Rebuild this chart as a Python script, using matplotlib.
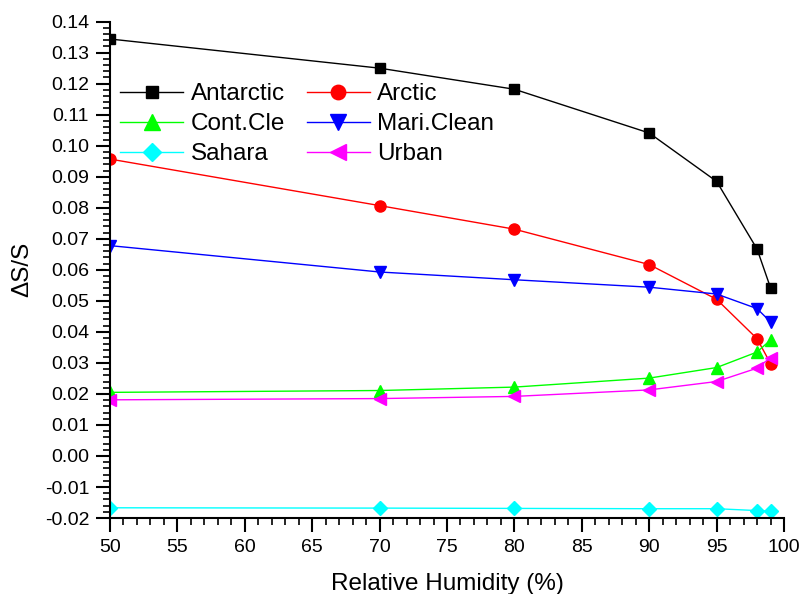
import matplotlib
matplotlib.use("Agg")
import matplotlib.pyplot as plt
from matplotlib.ticker import MultipleLocator, FormatStrFormatter

plt.rcParams['font.family'] = ['Liberation Sans', 'DejaVu Sans']

# relative humidity (%)
rh = [50, 70, 80, 90, 95, 98, 99]

antarctic = [0.1344, 0.1250, 0.1182, 0.1041, 0.0885, 0.0667, 0.0542]
arctic = [0.0957, 0.0807, 0.0731, 0.0617, 0.0505, 0.0378, 0.0298]
cont_cle = [0.0205, 0.0211, 0.0222, 0.0251, 0.0285, 0.0335, 0.0374]
mari_clean = [0.0678, 0.0593, 0.0568, 0.0544, 0.0522, 0.0475, 0.0432]
sahara = [-0.0167, -0.0168, -0.0169, -0.0170, -0.0170, -0.0176, -0.0178]
urban = [0.0181, 0.0185, 0.0192, 0.0213, 0.0240, 0.0283, 0.0317]

fig = plt.figure(figsize=(8.01, 5.94), dpi=100)
ax = fig.add_axes([0.1373, 0.1279, 0.8415, 0.8357])

h1, = ax.plot(rh, antarctic, color='black', marker='s', ms=7, lw=1, label='Antarctic')
h2, = ax.plot(rh, arctic, color='red', marker='o', ms=8, lw=1, label='Arctic')
h3, = ax.plot(rh, cont_cle, color='#00ff00', marker='^', ms=9, lw=1, label='Cont.Cle')
h4, = ax.plot(rh, mari_clean, color='blue', marker='v', ms=9, lw=1, label='Mari.Clean')
h5, = ax.plot(rh, sahara, color='cyan', marker='D', ms=7, lw=1, label='Sahara')
h6, = ax.plot(rh, urban, color='magenta', marker='<', ms=9, lw=1, label='Urban')

ax.set_xlim(50, 100)
ax.set_ylim(-0.02, 0.14)
ax.xaxis.set_major_locator(MultipleLocator(5))
ax.xaxis.set_minor_locator(MultipleLocator(1))
ax.yaxis.set_major_locator(MultipleLocator(0.01))
ax.yaxis.set_minor_locator(MultipleLocator(0.002))
ax.yaxis.set_major_formatter(FormatStrFormatter('%.2f'))

for s in ['top', 'right']:
    ax.spines[s].set_visible(False)
for s in ['left', 'bottom']:
    ax.spines[s].set_linewidth(1.5)

ax.tick_params(which='major', direction='out', length=10, width=1.5, labelsize=14, pad=5)
ax.tick_params(which='minor', direction='out', length=5, width=1.2)

ax.set_xlabel('Relative Humidity (%)', fontsize=17.5, labelpad=12)
ax.set_ylabel('ΔS/S', fontsize=17.5, labelpad=8)

leg = ax.legend([h1, h3, h5, h2, h4, h6],
                ['Antarctic', 'Cont.Cle', 'Sahara', 'Arctic', 'Mari.Clean', 'Urban'],
                ncol=2, frameon=False, fontsize=17.5, loc='upper left',
                bbox_to_anchor=(0.015, 0.876), handlelength=2.6, handletextpad=0.3,
                columnspacing=0.9, labelspacing=0.33, markerscale=1.3, borderpad=0,
                borderaxespad=0)

fig.savefig('out.png', dpi=100)
